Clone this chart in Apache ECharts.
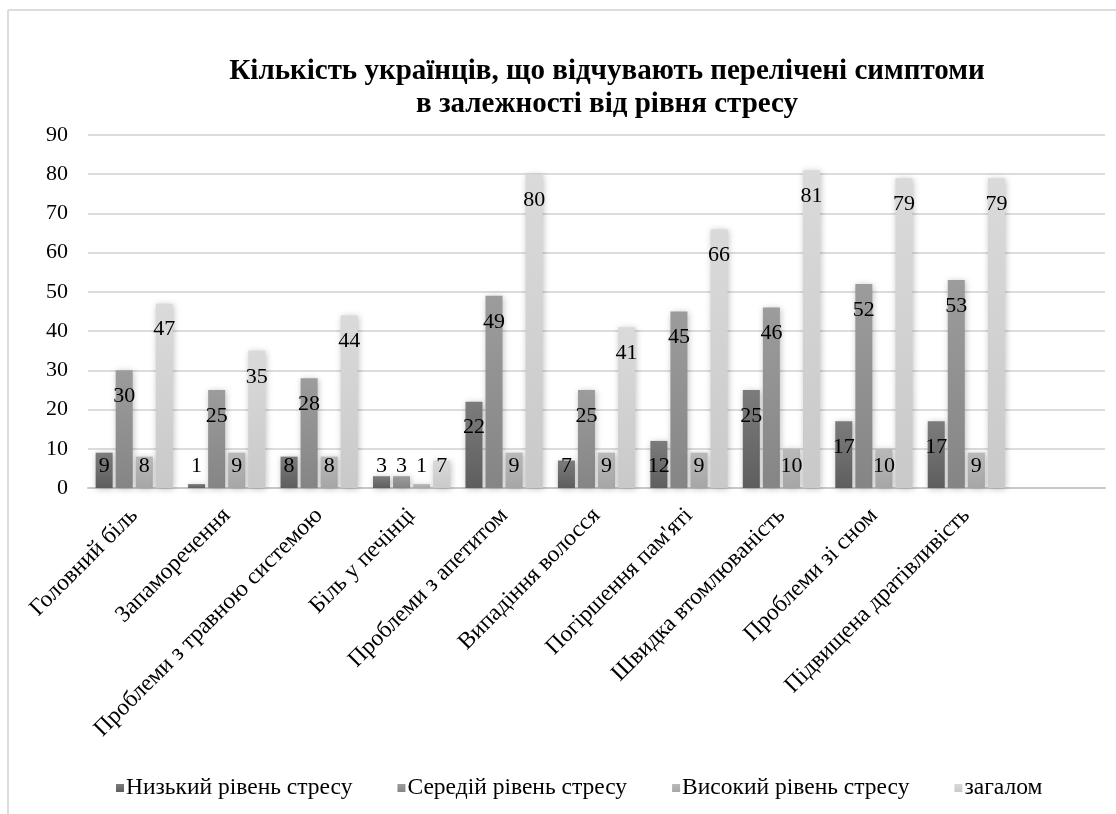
<!DOCTYPE html>
<html>
<head>
<meta charset="utf-8">
<script src="https://cdn.jsdelivr.net/npm/echarts@6/dist/echarts.min.js"></script>
<style>html,body{margin:0;padding:0;background:#fff}#c{width:1116px;height:814px}</style>
</head>
<body>
<div id="c"></div>
<script>
const categories = ['Головний біль','Запаморечення','Проблеми з травною системою','Біль у печінці','Проблеми з апетитом','Випадіння волосся',"Погіршення пам'яті",'Швидка втомлюваність','Проблеми зі сном','Підвищена дратівливість',''];
const seriesNames = ['Низький рівень стресу','Середій рівень стресу','Високий рівень стресу','загалом'];
const lowStress = [9,1,8,3,22,7,12,25,17,17];
const midStress = [30,25,28,3,49,25,45,46,52,53];
const highStress = [8,9,8,1,9,9,9,10,10,9];
const overall = [47,35,44,7,80,41,66,81,79,79];
const yTicks = [0,10,20,30,40,50,60,70,80,90];

const serif = 'Liberation Serif, serif';
const colors = [['#7c7c7c','#5e5e5e'],['#9c9c9c','#858585'],['#b9b9b9','#a6a6a6'],['#dadada','#c9c9c9']];

function grad(c){
  return new echarts.graphic.LinearGradient(0,0,0,1,[{offset:0,color:c[0]},{offset:1,color:c[1]}]);
}
function mkData(arr){
  return arr.map(v => ({
    value: v,
    label: v < 15 ? {position:'insideBottom', distance:11} : {position:'insideTop', distance:15}
  }));
}
const allData = [lowStress, midStress, highStress, overall];

const chart = echarts.init(document.getElementById('c'));
chart.setOption({
  backgroundColor:'#fff',
  animation:false,
  title:{
    text:'Кількість українців, що відчувають перелічені симптоми\nв залежності від рівня стресу',
    left:602, top:50, textAlign:'center',
    textStyle:{fontFamily:serif, fontWeight:'bold', fontSize:29, color:'#000', lineHeight:33}
  },
  legend:{
    left:111, top:771,
    itemWidth:8, itemHeight:8, itemGap:45,
    icon:'rect',
    textStyle:{fontFamily:serif, fontSize:23.5, color:'#000', padding:[0,0,0,-3]},
    data: seriesNames
  },
  grid:{left:88, right:11, top:135, bottom:326, containLabel:false},
  xAxis:{
    type:'category', data:categories,
    axisTick:{show:false},
    axisLine:{lineStyle:{color:'#c8c8c8', width:2}},
    axisLabel:{rotate:45, interval:0, fontFamily:serif, fontSize:23.5, color:'#000', margin:24}
  },
  yAxis:{
    type:'value', min:yTicks[0], max:yTicks[yTicks.length-1], interval:10,
    axisLine:{show:false}, axisTick:{show:false},
    axisLabel:{fontFamily:serif, fontSize:22, color:'#000', margin:20},
    splitLine:{lineStyle:{color:'#dcdcdc', width:2}}
  },
  series: seriesNames.map((n,i)=>({
    name:n, type:'bar',
    data: mkData(allData[i]),
    barWidth:17, barGap:'18%',
    itemStyle:{color:grad(colors[i]), shadowBlur:6, shadowColor:'rgba(0,0,0,0.25)', shadowOffsetX:1, shadowOffsetY:1},
    label:{show:true, fontFamily:serif, fontSize:22, color:'#000'}
  })),
  graphic:[
    {type:'line', shape:{x1:8,y1:10,x2:1116,y2:10}, style:{stroke:'#dcdcdc', lineWidth:2}, silent:true},
    {type:'line', shape:{x1:8,y1:10,x2:8,y2:814}, style:{stroke:'#dcdcdc', lineWidth:2}, silent:true}
  ]
});
</script>
</body>
</html>
